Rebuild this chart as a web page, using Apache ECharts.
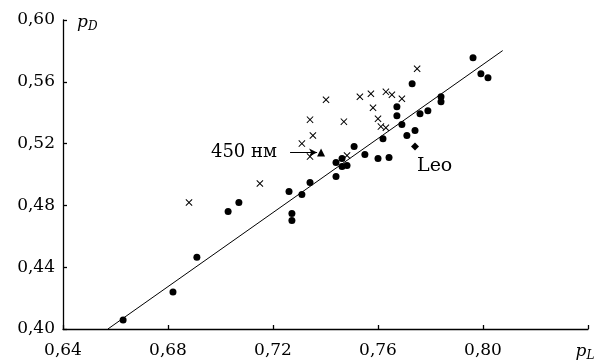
<!DOCTYPE html>
<html>
<head>
<meta charset="utf-8">
<script src="https://cdn.jsdelivr.net/npm/echarts@6/dist/echarts.min.js"></script>
<style>
  html, body { margin: 0; padding: 0; background: #fff; }
  #chart { width: 600px; height: 362px; }
</style>
</head>
<body>
<div id="chart"></div>
<script>
// filled circles: galaxies / samples
const dots = [
  [0.6629, 0.4058], [0.6819, 0.4239], [0.6910, 0.4465], [0.7029, 0.4761],
  [0.7070, 0.4819], [0.7261, 0.4890], [0.7272, 0.4748], [0.7272, 0.4703],
  [0.7310, 0.4871], [0.7341, 0.4948], [0.7440, 0.5077], [0.7463, 0.5103],
  [0.7440, 0.4987], [0.7463, 0.5052], [0.7482, 0.5058], [0.7509, 0.5181],
  [0.7550, 0.5129], [0.7600, 0.5103], [0.7642, 0.5110], [0.7619, 0.5232],
  [0.7672, 0.5439], [0.7672, 0.5381], [0.7691, 0.5323], [0.7710, 0.5252],
  [0.7741, 0.5284], [0.7730, 0.5587], [0.7760, 0.5394], [0.7790, 0.5413],
  [0.7840, 0.5503], [0.7840, 0.5471], [0.7962, 0.5755], [0.7992, 0.5652],
  [0.8019, 0.5626]
];
// crosses
const crosses = [
  [0.6880, 0.4819], [0.7150, 0.4942], [0.7402, 0.5484], [0.7341, 0.5355],
  [0.7470, 0.5342], [0.7352, 0.5252], [0.7310, 0.5200], [0.7341, 0.5116],
  [0.7482, 0.5123], [0.7531, 0.5503], [0.7573, 0.5523], [0.7630, 0.5535],
  [0.7653, 0.5516], [0.7691, 0.5490], [0.7581, 0.5432], [0.7600, 0.5361],
  [0.7611, 0.5310], [0.7630, 0.5303], [0.7749, 0.5684]
];
const leo = [[0.7741, 0.5181]];
const nm450 = [[0.7383, 0.5142]];
const fitLine = [[0.6571, 0.40], [0.8075, 0.5802]];
const xTickLabels = ['0,64', '0,68', '0,72', '0,76', '0,80', ''];
const yTickLabels = ['0,40', '0,44', '0,48', '0,52', '0,56', '0,60'];

const chart = echarts.init(document.getElementById('chart'));
const font = 'DejaVu Serif';
const crossPath = 'path://M0,1L1,0L5,4L9,0L10,1L6,5L10,9L9,10L5,6L1,10L0,9L4,5Z';
const black = { color: '#000', opacity: 1 };

chart.setOption({
  animation: false,
  grid: { left: 63, right: 12, top: 20, bottom: 32 },
  xAxis: {
    type: 'value', min: 0.64, max: 0.84, interval: 0.04,
    splitLine: { show: false },
    axisLine: { onZero: false, lineStyle: { color: '#000', width: 1.3 } },
    axisTick: { inside: true, length: 4, lineStyle: { color: '#000', width: 1.3 } },
    axisLabel: {
      color: '#000', fontFamily: font, fontSize: 17, margin: 13,
      formatter: v => xTickLabels[Math.round((v - 0.64) / 0.04)]
    },
    name: '{i|p}{s|L}', nameLocation: 'end', nameGap: -3,
    nameTextStyle: {
      align: 'center', verticalAlign: 'top', padding: [13, 0, 0, 0],
      rich: {
        i: { fontFamily: font, fontStyle: 'italic', fontSize: 17, color: '#000' },
        s: { fontFamily: font, fontStyle: 'italic', fontSize: 12, color: '#000', verticalAlign: 'bottom', padding: [8, 0, 0, 0] }
      }
    }
  },
  yAxis: {
    type: 'value', min: 0.40, max: 0.60, interval: 0.04,
    splitLine: { show: false },
    axisLine: { onZero: false, lineStyle: { color: '#000', width: 1.3 } },
    axisTick: { inside: true, length: 4, lineStyle: { color: '#000', width: 1.3 } },
    axisLabel: {
      color: '#000', fontFamily: font, fontSize: 17, margin: 8,
      formatter: v => yTickLabels[Math.round((v - 0.40) / 0.04)]
    },
    name: '{i|p}{s|D}', nameLocation: 'end', nameGap: -3,
    nameTextStyle: {
      align: 'left', verticalAlign: 'middle', padding: [0, 0, 0, 14],
      rich: {
        i: { fontFamily: font, fontStyle: 'italic', fontSize: 17, color: '#000' },
        s: { fontFamily: font, fontStyle: 'italic', fontSize: 12, color: '#000', verticalAlign: 'bottom', padding: [8, 0, 0, 0] }
      }
    }
  },
  series: [
    {
      type: 'line', data: fitLine, symbol: 'none', silent: true,
      lineStyle: { color: '#000', width: 1 }
    },
    {
      type: 'scatter', data: dots, symbol: 'circle', symbolSize: 7,
      itemStyle: black
    },
    {
      type: 'scatter', data: crosses, symbol: crossPath, symbolSize: 7,
      itemStyle: black
    },
    {
      type: 'scatter', data: leo, symbol: 'diamond', symbolSize: 8,
      itemStyle: black,
      label: {
        show: true, position: 'right', distance: 2, offset: [-4, 20],
        formatter: 'Leo', color: '#000', fontFamily: font, fontSize: 19
      }
    },
    {
      type: 'scatter', data: nm450, symbol: 'triangle', symbolSize: 8,
      itemStyle: black,
      label: {
        show: true, position: 'left', distance: 40,
        formatter: '450 нм', color: '#000', fontFamily: font, fontSize: 18
      },
      markLine: {
        silent: true, symbol: ['none', 'arrow'], symbolSize: [6, 8],
        lineStyle: { color: '#000', width: 1, type: 'solid' },
        label: { show: false },
        data: [[{ coord: [0.7265, 0.5142] }, { coord: [0.7368, 0.5142] }]]
      }
    }
  ]
});
</script>
</body>
</html>
